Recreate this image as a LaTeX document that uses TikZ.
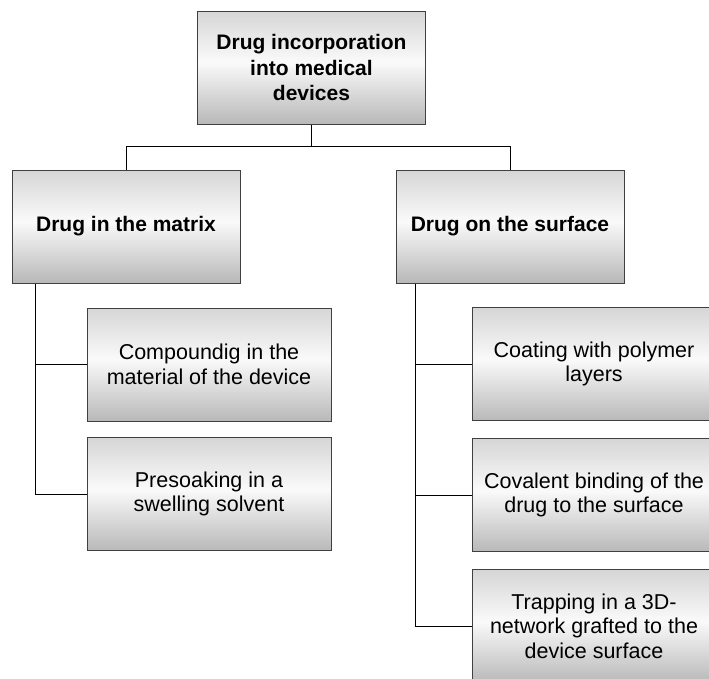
\documentclass[tikz,border=0pt]{standalone}
\usepackage{fontspec}
\setmainfont{Liberation Sans}
\usetikzlibrary{positioning}

% grey band shading, light in the upper middle and darker at the bottom
\newcommand{\boxshade}{%
  \foreach \i in {0,...,57} {
    \pgfmathsetmacro\t{\i*2/113}
    \pgfmathsetmacro\g{\t<0.45 ? 16-14*\t/0.45 : 2+26*(\t-0.45)/0.55}
    \fill[black!\g] ([yshift=-\i*2pt]path picture bounding box.north west)
      rectangle ([yshift=-\i*2pt-2.3pt]path picture bounding box.north east);
  }}

\tikzset{
    box/.style={draw=black!75, line width=1pt, align=center, inner sep=0pt,
        minimum width=228pt, minimum height=113pt,
        path picture={\boxshade},
        font=\fontsize{21.5}{24.5}\selectfont},
    headbox/.style={box, font=\fontsize{21}{25.5}\selectfont\bfseries},
    subbox/.style={box, minimum width=244pt},
    link/.style={line width=1pt, black}
}

\begin{document}
\begin{tikzpicture}[x=1pt, y=1pt]
\clip (0,0) rectangle (709,-678);
\fill[white] (0,0) rectangle (709,-678);
% top level
\node[headbox] (root) at (311.5,-67.5) {Drug incorporation\\into medical\\devices};
\node[headbox] (matrix) at (126,-226.5) {Drug in the matrix};
\node[headbox] (surface) at (510,-226.5) {Drug on the surface};
% matrix branch
\node[subbox] (compound) at (209,-364.5) {Compoundig in the\\material of the device};
\node[subbox] (presoak) at (209,-494) {Presoaking in a\\swelling solvent};
% surface branch
\node[subbox] (coating) at (594,-364) {Coating with polymer\\layers};
\node[subbox] (binding) at (594,-495) {Covalent binding of the\\drug to the surface};
\node[subbox] (trapping) at (594,-626) {Trapping in a 3D-\\network grafted to the\\device surface};
% connectors
\draw[link] (root.south) -- ++(0,-22) coordinate (bar) -| (matrix.north);
\draw[link] (bar) -| (surface.north);
\draw[link] ([xshift=24pt]matrix.south west) |- (compound.west);
\draw[link] ([xshift=24pt]matrix.south west) |- (presoak.west);
\draw[link] ([xshift=20pt]surface.south west) |- (coating.west);
\draw[link] ([xshift=20pt]surface.south west) |- (binding.west);
\draw[link] ([xshift=20pt]surface.south west) |- (trapping.west);
\end{tikzpicture}
\end{document}
